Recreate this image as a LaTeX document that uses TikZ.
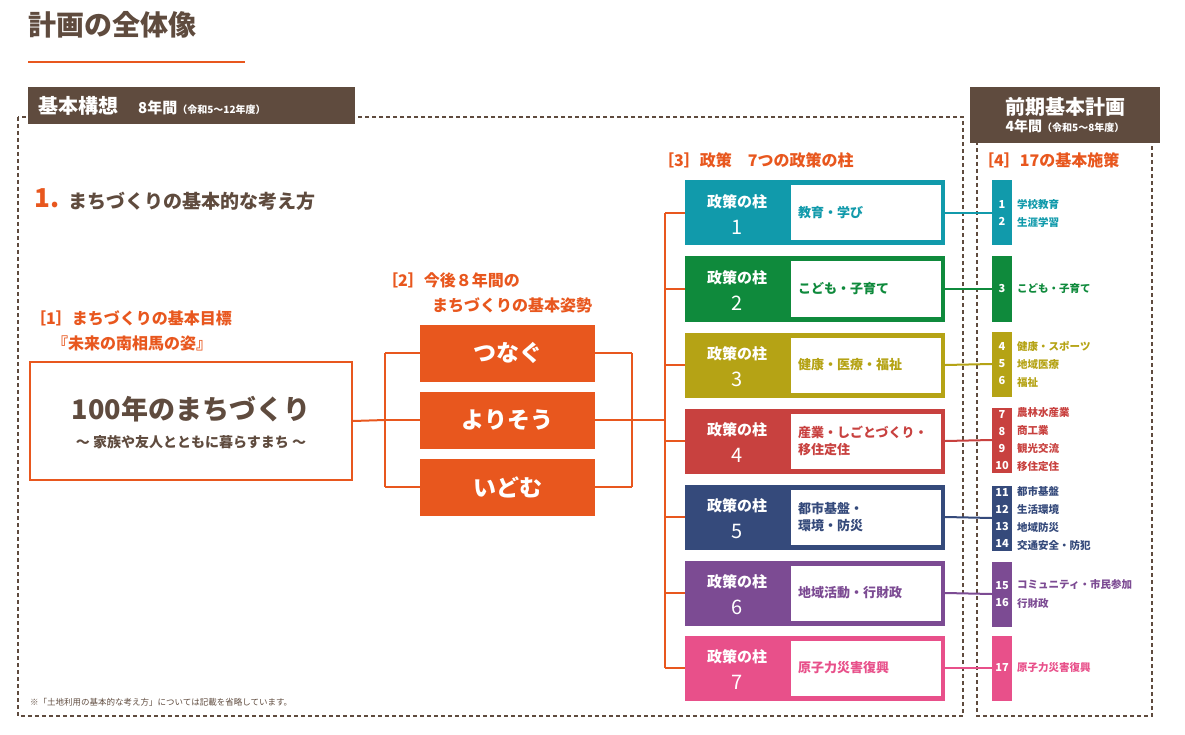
\documentclass[tikz,border=0pt]{standalone}
\usepackage{fontspec}
\setmainfont{Noto Sans CJK JP}
\usetikzlibrary{positioning, calc}
\definecolor{brownc}{HTML}{5F4B3E}
\definecolor{orangec}{HTML}{E8571E}
\definecolor{pA}{HTML}{119AAB}
\definecolor{pB}{HTML}{0F8A3C}
\definecolor{pC}{HTML}{B5A315}
\definecolor{pD}{HTML}{C8413F}
\definecolor{pE}{HTML}{354A7B}
\definecolor{pF}{HTML}{7C4B93}
\definecolor{pG}{HTML}{E8508A}
\begin{document}
\begin{tikzpicture}[x=1pt, y=-1pt,
    frame/.style={draw=brownc, line width=2.5pt, dash pattern=on 4pt off 3pt},
    tag/.style={fill=brownc, text=white, inner sep=0pt, font=\bfseries},
    head/.style={text=orangec, font=\fontsize{16}{19}\selectfont\bfseries, anchor=west, align=left, inner sep=0pt},
    stance/.style={fill=orangec, minimum width=175pt, minimum height=57pt, inner sep=0pt, text=white, font=\fontsize{23}{26}\selectfont\bfseries},
    link/.style={draw=orangec, line width=2pt},
    pillar/.style={minimum width=260pt, minimum height=65pt, inner sep=0pt},
    bar/.style={minimum width=20pt, inner sep=0pt},
    item/.style={anchor=west, align=left, inner sep=0pt, font=\fontsize{10.5}{18}\selectfont\bfseries}
  ]
\useasboundingbox (0,0) rectangle (1185,735);

% title
\node[anchor=west, text=brownc, font=\fontsize{28}{32}\selectfont\bfseries, inner sep=0pt] (title) at (28,25) {計画の全体像};
\draw[orangec, line width=1.2pt] (28,62) -- (245,62);

% frames
\draw[frame] (18,117) rectangle (963,716);
\draw[frame] (977,120) rectangle (1152,716);
\node[tag, minimum width=327pt, minimum height=37pt] (plan) at (191.5,106) {};
\node[anchor=west, text=white, font=\bfseries, inner sep=0pt] (planT) at (38,106)
  {\fontsize{20}{22}\selectfont 基本構想\quad\fontsize{15}{17}\selectfont 8年間\fontsize{10}{12}\selectfont（令和5〜12年度）};
\node[tag, minimum width=190pt, minimum height=56pt, align=center] (early) at (1065,115)
  {\fontsize{20}{24}\selectfont 前期基本計画\\[2pt]\fontsize{14}{16}\selectfont 4年間\fontsize{10}{12}\selectfont（令和5〜8年度）};

% 1. basic idea
\node[anchor=west, text=orangec, font=\fontsize{26}{28}\selectfont\bfseries, inner sep=0pt] (one) at (34,198) {1.};
\node[anchor=west, text=brownc, font=\fontsize{19}{22}\selectfont\bfseries, inner sep=0pt] (idea) at (68,201) {まちづくりの基本的な考え方};

% [1] goal
\node[head] (goalA) at (30,318) {［1］まちづくりの基本目標};
\node[head] (goalB) at (52,343) {『未来の南相馬の姿』};
\node[draw=orangec, line width=2pt, minimum width=322pt, minimum height=118pt, inner sep=0pt] (goal) at (191,421) {};
\node[text=brownc, font=\fontsize{27}{30}\selectfont\bfseries, inner sep=0pt] (goalT) at (191,409) {100年のまちづくり};
\node[text=brownc, font=\fontsize{14}{16}\selectfont\bfseries, inner sep=0pt] (goalS) at (191,442) {〜 家族や友人とともに暮らすまち 〜};

% [2] stance
\node[head] (stA) at (382,280) {［2］今後８年間の};
\node[head] (stB) at (432,305) {まちづくりの基本姿勢};
\node[stance] (s1) at (507.5,353) {つなぐ};
\node[stance] (s2) at (507.5,420) {よりそう};
\node[stance] (s3) at (507.5,487) {いどむ};
\coordinate (bl) at (385,420);
\coordinate (br) at (632,420);
\draw[link] (goal.east) -- (bl);
\draw[link] (s1.west -| bl) -- (s3.west -| bl);
\draw[link] (s1.east -| br) -- (s3.east -| br);
\foreach \s in {s1,s2,s3} {
  \draw[link] (\s.west -| bl) -- (\s.west);
  \draw[link] (\s.east) -- (\s.east -| br);
}
\coordinate (pl) at (665,420);
\draw[link] (br) -- (pl);

% [3] pillars
\node[head] (polH) at (658,160) {［3］政策\quad 7つの政策の柱};
\foreach \i/\c/\y/\t in {1/pA/213/教育・学び, 2/pB/289/こども・子育て, 3/pC/365/健康・医療・福祉,
    4/pD/441/{産業・しごとづくり・\\移住定住}, 5/pE/517/{都市基盤・\\環境・防災}, 6/pF/593/地域活動・行財政, 7/pG/668/原子力災害復興} {
  \node[pillar, fill=\c] (p\i) at (815,\y) {};
  \node[fill=white, minimum width=150pt, minimum height=55pt, inner sep=0pt] (pw\i) at (866,\y) {};
  \node[anchor=west, align=left, inner sep=0pt, text=\c, font=\fontsize{13}{17}\selectfont\bfseries] (pt\i) at (798,\y) {\t};
  \node[text=white, inner sep=0pt, font=\fontsize{15}{18}\selectfont\bfseries] (pn\i) at (737,\y-11) {政策の柱};
  \node[text=white, inner sep=0pt, font=\fontsize{20}{24}\selectfont] (pk\i) at (737,\y+14) {\i};
  \draw[link] (p\i.west -| pl) -- (p\i.west);
}
\draw[link] (p1.west -| pl) -- (p7.west -| pl);

% [4] measures
\node[head] (meaH) at (978,160) {［4］17の基本施策};
\foreach \i/\c/\y/\n/\t in {1/pA/213/{1\\2}/{学校教育\\生涯学習}, 2/pB/289/3/こども・子育て,
    3/pC/364/{4\\5\\6}/{健康・スポーツ\\地域医療\\福祉}, 4/pD/440/{7\\8\\9\\10}/{農林水産業\\商工業\\観光交流\\移住定住},
    5/pE/518/{11\\12\\13\\14}/{都市基盤\\生活環境\\地域防災\\交通安全・防犯}, 6/pF/594/{15\\16}/{コミュニティ・市民参加\\行財政},
    7/pG/668/17/原子力災害復興} {
  \node[bar, fill=\c, minimum height=65pt] (b\i) at (1002,\y) {};
  \node[align=center, inner sep=0pt, text=white, font=\fontsize{11}{17}\selectfont\bfseries] (bn\i) at (b\i) {\n};
  \node[item, text=\c] (bt\i) at (1017,\y) {\t};
  \draw[\c, line width=2pt] (p\i.east) -- (b\i.west);
}

% note
\node[anchor=west, text=brownc, font=\fontsize{8.5}{10}\selectfont, inner sep=0pt] (note) at (30,702) {※「土地利用の基本的な考え方」については記載を省略しています。};
\end{tikzpicture}
\end{document}
